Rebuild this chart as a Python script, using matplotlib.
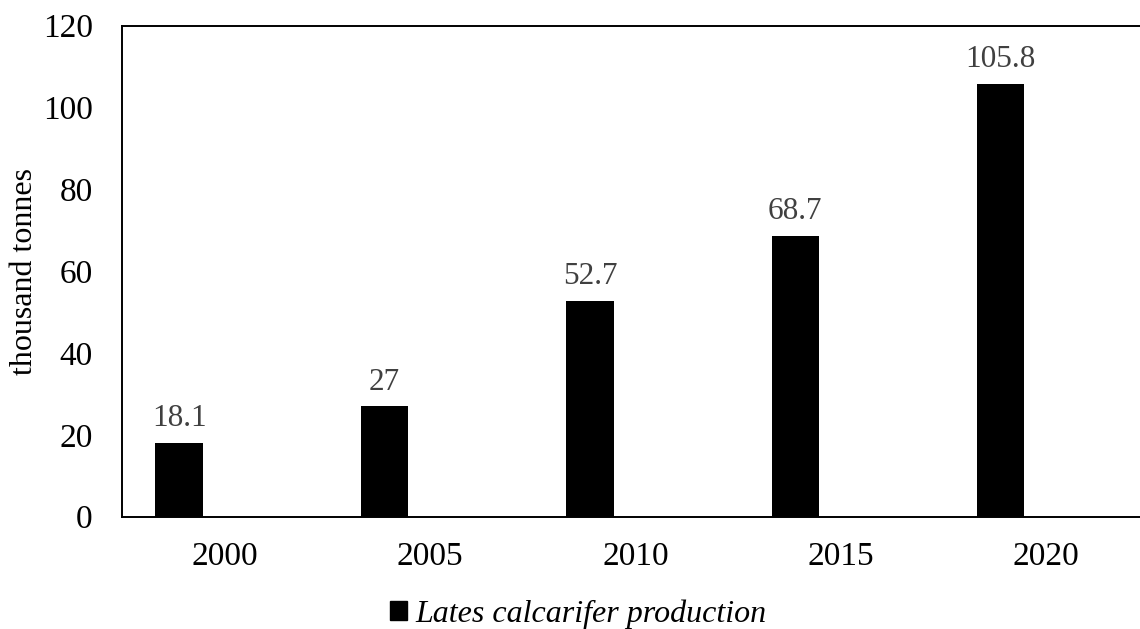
import numpy as np
import matplotlib.pyplot as plt
from matplotlib.patches import Patch

years = ['2000', '2005', '2010', '2015', '2020']
production = [18.1, 27, 52.7, 68.7, 105.8]
label_text = ['18.1', '27', '52.7', '68.7', '105.8']
yticks = [0, 20, 40, 60, 80, 100, 120]

plt.rcParams['font.family'] = ['Liberation Serif', 'DejaVu Serif']

fig = plt.figure(figsize=(11.4, 6.29), dpi=100)
ax = fig.add_axes([122 / 1140, 1 - 516.7 / 629, 1027 / 1140, 491 / 629])

x = np.arange(len(years))
bars = ax.bar(x - 0.222, production, width=0.23, color='black')

for b, t in zip(bars, label_text):
    ax.annotate(t, (b.get_x() + b.get_width() / 2, b.get_height()),
                xytext=(0, 7), textcoords='offset points',
                ha='center', va='bottom', fontsize=22.5, color='#404040')

ax.set_xlim(-0.5, 4.5)
ax.set_ylim(0, 120)
ax.set_xticks(x)
ax.set_xticklabels(years)
ax.set_yticks(yticks)
ax.tick_params(axis='both', length=0, labelsize=24)
ax.tick_params(axis='y', pad=21)
ax.tick_params(axis='x', pad=18)
ax.set_ylabel('thousand tonnes', fontsize=23, labelpad=3)

for s in ['left', 'top', 'bottom']:
    ax.spines[s].set_linewidth(1.4)
    ax.spines[s].set_color('black')
ax.spines['right'].set_visible(False)

fig.legend(handles=[Patch(color='black', label='Lates calcarifer production')],
           loc='center', bbox_to_anchor=(578 / 1140, 1 - 614 / 629),
           frameon=False, prop={'size': 23, 'style': 'italic'},
           handlelength=0.55, handleheight=0.55, handletextpad=0.25,
           borderpad=0, borderaxespad=0)

fig.savefig('out.png', dpi=100)
